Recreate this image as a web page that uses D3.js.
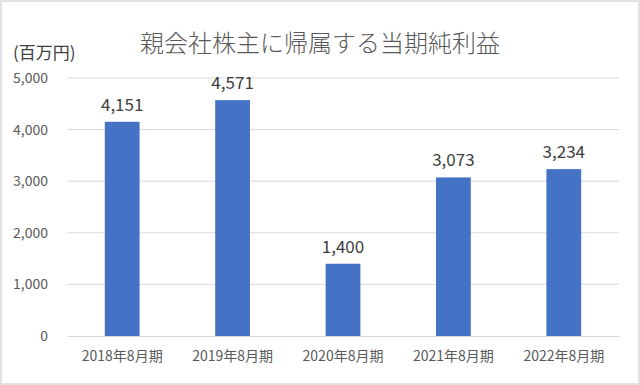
<!DOCTYPE html>
<html>
<head>
<meta charset="utf-8">
<script src="https://cdn.jsdelivr.net/npm/d3@7"></script>
<style>
  body { margin: 0; background: #fff; }
  svg { display: block; }
</style>
</head>
<body>
<svg id="chart"></svg>
<script>
const WIDTH = 640;
const HEIGHT = 385;

// data
const categories = ["2018年8月期", "2019年8月期", "2020年8月期", "2021年8月期", "2022年8月期"];
const values = [4151, 4571, 1400, 3073, 3234];
const yTicks = [0, 1000, 2000, 3000, 4000, 5000];

const TITLE = "親会社株主に帰属する当期純利益";
const UNIT = "(百万円)";

const FONT = "'Noto Sans CJK JP', 'Noto Sans', sans-serif";

const svg = d3.select('#chart')
    .attr("width", WIDTH)
    .attr("height", HEIGHT);

// outer frame
svg.append('rect')
    .attr('x', 1).attr('y', 1)
    .attr('width', WIDTH - 2).attr('height', HEIGHT - 2)
    .attr('fill', '#fff')
    .attr('stroke', '#d9d9d9')
    .attr('stroke-width', 1.5);

const plot = { left: 67, right: 619, top: 78, bottom: 336 };

const x = d3.scaleBand(categories, [plot.left, plot.right])
    .paddingInner(0.685)
    .paddingOuter(0.3425);
const y = d3.scaleLinear([0, 5000], [plot.bottom, plot.top]);

// gridlines
svg.append('g')
    .selectAll('line')
    .data(yTicks.filter(t => t > 0))
    .enter()
    .append('line')
    .attr('x1', plot.left).attr('x2', plot.right)
    .attr('y1', d => y(d)).attr('y2', d => y(d))
    .attr('stroke', '#d9d9d9')
    .attr('stroke-width', 1);

// y axis labels
const yAxis = svg.append('g')
    .attr('transform', `translate(${plot.left}, 0)`)
    .call(d3.axisLeft(y).tickValues(yTicks).tickFormat(d3.format(",")).tickSize(0).tickPadding(19));
yAxis.select('.domain').remove();
yAxis.selectAll('text')
    .attr('fill', '#595959')
    .style('font-family', FONT)
    .style('font-size', '14px');

// bars
svg.append('g')
    .selectAll('rect')
    .data(values)
    .enter()
    .append('rect')
    .attr('x', (d, i) => x(categories[i]))
    .attr('y', d => y(d))
    .attr('width', x.bandwidth())
    .attr('height', d => y(0) - y(d))
    .attr('fill', '#4472c4');

// data labels
svg.append('g')
    .selectAll('text')
    .data(values)
    .enter()
    .append('text')
    .attr('x', (d, i) => x(categories[i]) + x.bandwidth() / 2)
    .attr('y', d => y(d) - 11)
    .attr('text-anchor', 'middle')
    .attr('fill', '#404040')
    .style('font-family', FONT)
    .style('font-size', '17px')
    .text(d => d3.format(",")(d));

// x axis
const xAxis = svg.append('g')
    .attr('transform', `translate(0, ${plot.bottom})`)
    .call(d3.axisBottom(x).tickSize(0).tickPadding(15));
xAxis.select('.domain')
    .attr('stroke', '#d9d9d9')
    .attr('stroke-width', 1);
xAxis.selectAll('text')
    .attr('fill', '#595959')
    .style('font-family', FONT)
    .style('font-size', '14px');

// title
svg.append('text')
    .attr('x', WIDTH / 2)
    .attr('y', 52)
    .attr('text-anchor', 'middle')
    .attr('fill', '#595959')
    .style('font-family', FONT)
    .style('font-weight', 300)
    .style('font-size', '24px')
    .text(TITLE);

// unit label
svg.append('text')
    .attr('x', 13)
    .attr('y', 59)
    .attr('fill', '#404040')
    .style('font-family', FONT)
    .style('font-size', '17px')
    .text(UNIT);
</script>
</body>
</html>
